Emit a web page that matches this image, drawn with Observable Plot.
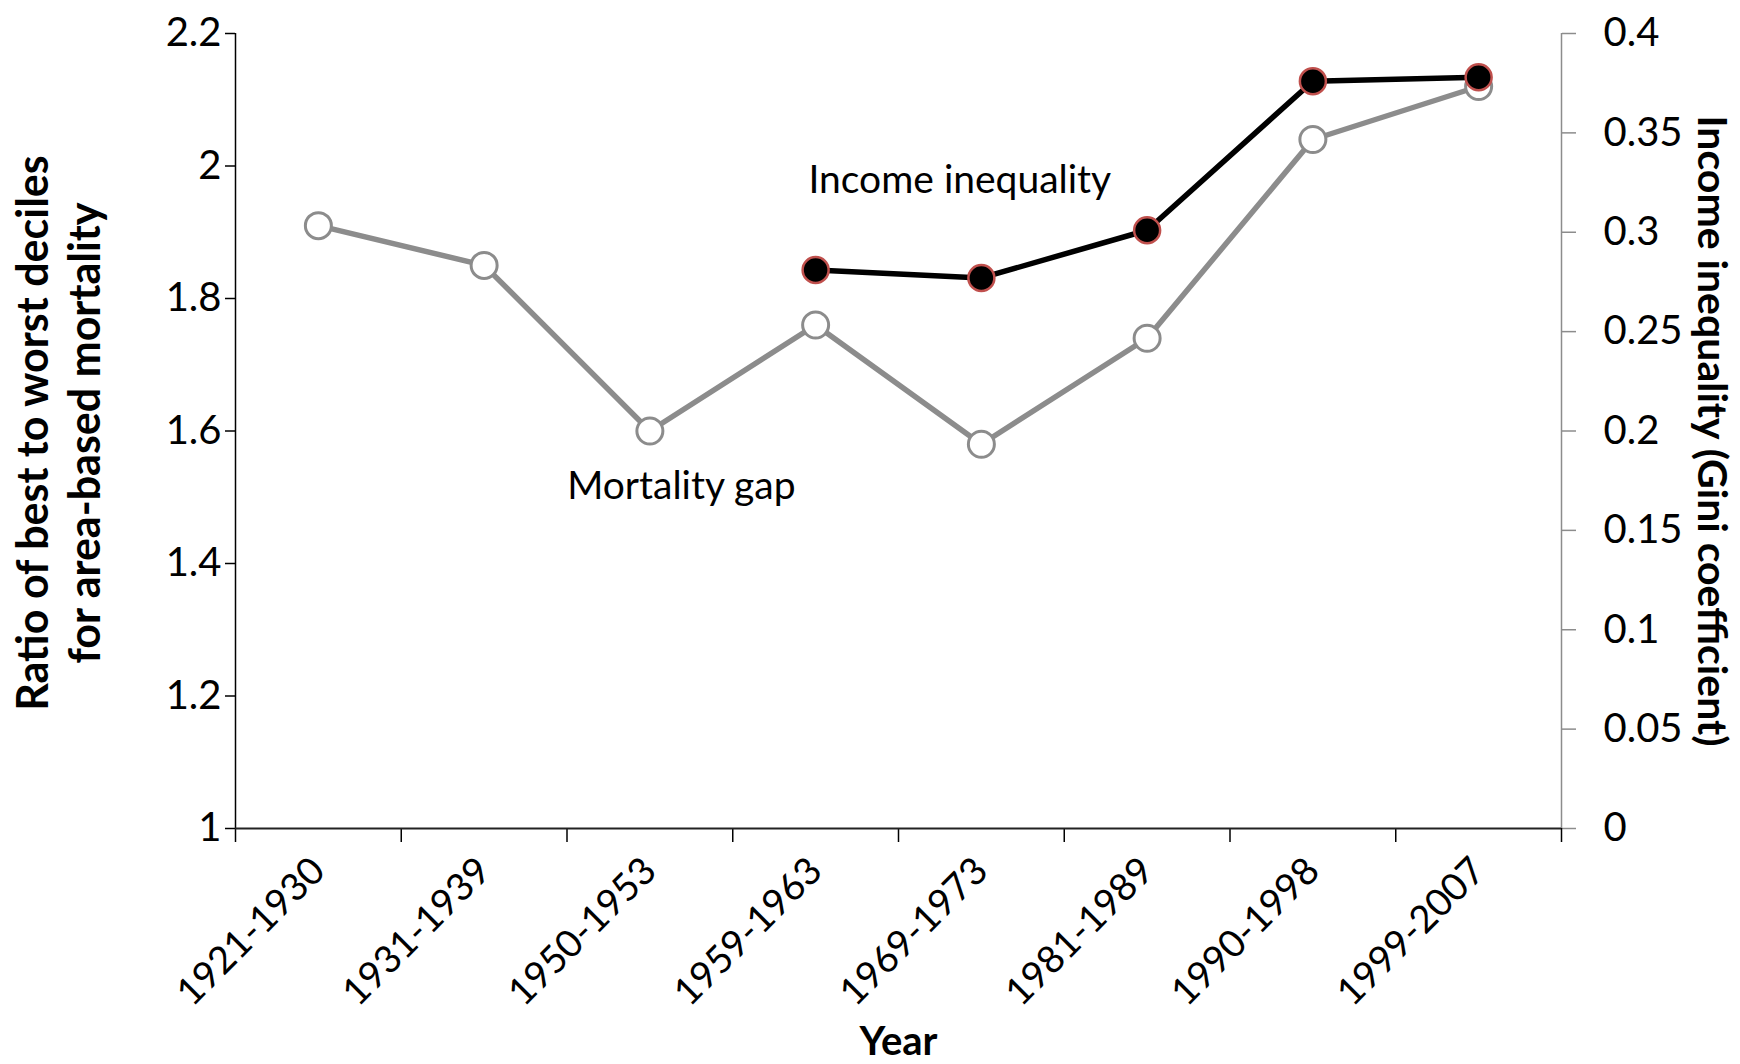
<!DOCTYPE html>
<html><head><meta charset="utf-8">
<script src="https://cdn.jsdelivr.net/npm/d3@7"></script>
<script src="https://cdn.jsdelivr.net/npm/@observablehq/plot@0.6"></script>
<style>body{margin:0;background:#fff}</style>
</head><body><div id="chart"></div>
<script>
const periods = ["1921-1930","1931-1939","1950-1953","1959-1963","1969-1973","1981-1989","1990-1998","1999-2007"];
const mortalityGap = [1.91, 1.85, 1.60, 1.76, 1.58, 1.74, 2.04, 2.12];
const incomePeriods = ["1959-1963","1969-1973","1981-1989","1990-1998","1999-2007"];
const giniValues = [0.281, 0.277, 0.301, 0.376, 0.378];
const leftTicks = [1, 1.2, 1.4, 1.6, 1.8, 2, 2.2];
const rightTicks = [0, 0.05, 0.1, 0.15, 0.2, 0.25, 0.3, 0.35, 0.4];
const annotations = [
  {text: "Income inequality", period: 4.37, value: 1.978},
  {text: "Mortality gap", period: 2.69, value: 1.516}
];

const yMin = leftTicks[0], yMax = leftTicks[leftTicks.length - 1];
const gMax = rightTicks[rightTicks.length - 1];
const k = (yMax - yMin) / gMax;           // gini -> left-axis units
const toLeft = g => yMin + g * k;
const idx = p => periods.indexOf(p) + 0.5;

const mort = periods.map((p, i) => ({x: idx(p), y: mortalityGap[i]}));
const gini = incomePeriods.map((p, i) => ({x: idx(p), y: toLeft(giniValues[i])}));
const fmt = v => String(+v.toFixed(2));
const font = "Lato, 'Open Sans', sans-serif";

const chart = Plot.plot({
  width: 1740, height: 1064,
  marginLeft: 235, marginRight: 179, marginTop: 33, marginBottom: 236,
  style: {fontFamily: font, fontSize: "40px", color: "#000", background: "#fff"},
  x: {type: "linear", domain: [0, periods.length], axis: null},
  y: {domain: [yMin, yMax], axis: null},
  marks: [
    Plot.axisY({ticks: leftTicks, tickSize: 10, tickPadding: 4, tickFormat: fmt, label: null, strokeWidth: 1.5, fontSize: 40}),
    Plot.axisY(rightTicks.map(toLeft), {anchor: "right", ticks: rightTicks.map(toLeft), tickSize: 14, tickPadding: 28,
      tickFormat: d => fmt((d - yMin) / k), label: null, stroke: "#8c8c8c", strokeWidth: 1.5, fontSize: 40}),
    Plot.axisX({ticks: d3.range(0, periods.length + 1), tickSize: 14, tickFormat: () => "", label: null, strokeWidth: 1.5}),
    Plot.axisX({ticks: periods.map(idx), tickSize: 0, tickPadding: 36, tickRotate: -45,
      tickFormat: d => periods[Math.round(d - 0.5)], label: null, fontSize: 38}),
    Plot.ruleX([0], {stroke: "#000", strokeWidth: 1.5}),
    Plot.ruleX([periods.length], {stroke: "#8c8c8c", strokeWidth: 1.5}),
    Plot.ruleY([yMin], {stroke: "#222", strokeWidth: 2}),
    Plot.line(mort, {x: "x", y: "y", stroke: "#8c8c8c", strokeWidth: 5.5}),
    Plot.dot(mort, {x: "x", y: "y", r: 13, fill: "#fff", stroke: "#8c8c8c", strokeWidth: 3}),
    Plot.line(gini, {x: "x", y: "y", stroke: "#000", strokeWidth: 5.5}),
    Plot.dot(gini, {x: "x", y: "y", r: 13, fill: "#000", stroke: "#c0504d", strokeWidth: 2.5}),
    Plot.text(annotations, {x: "period", y: "value", text: "text", fontSize: 39, fill: "#000"}),
    Plot.text(["Ratio of best to worst deciles\nfor area-based mortality"], {frameAnchor: "left", textAnchor: "middle", dx: -178, dy: 2, rotate: -90,
      fontWeight: "bold", fontSize: 43, lineHeight: 1.2, fill: "#000"}),
    Plot.text(["Income inequality (Gini coefficient)"], {frameAnchor: "right", textAnchor: "middle", dx: 150, rotate: 90,
      fontWeight: "bold", fontSize: 41, fill: "#000"}),
    Plot.text(["Year"], {frameAnchor: "bottom", lineAnchor: "middle", dy: 214, fontWeight: "bold", fontSize: 40, fill: "#000"})
  ]
});
document.getElementById("chart").appendChild(chart);
</script>
</body></html>
